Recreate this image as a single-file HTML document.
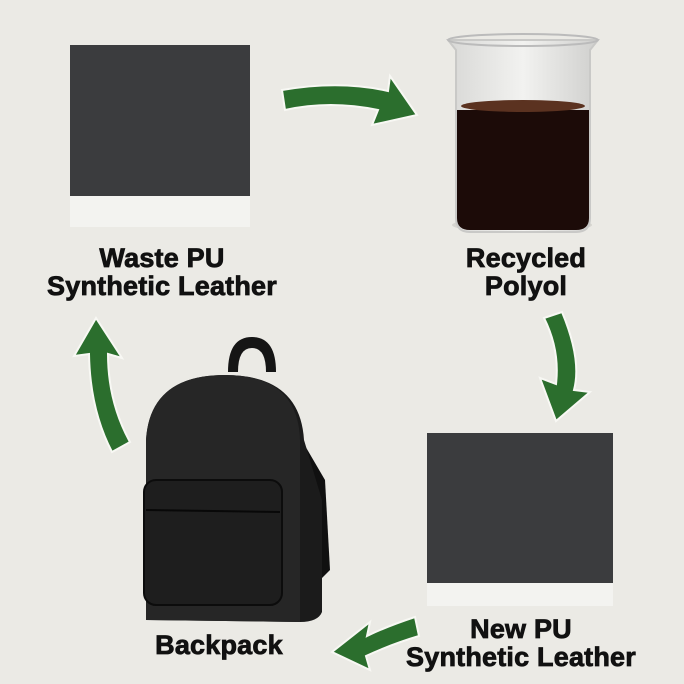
<!DOCTYPE html>
<html><head><style>
body{margin:0;width:684px;height:684px;background:#ebeae5;overflow:hidden;position:relative;font-family:"Liberation Sans",sans-serif}
.t{position:absolute;font-weight:bold;color:#111;font-size:27px;line-height:28px;text-align:center;white-space:nowrap;letter-spacing:0.2px;-webkit-text-stroke:0.8px #111}
</style></head><body>
<svg width="684" height="684" style="position:absolute;left:0;top:0">
<defs>
<linearGradient id="gl" x1="0" x2="1"><stop offset="0" stop-color="#d8d8d6"/><stop offset="0.5" stop-color="#f2f2f0"/><stop offset="1" stop-color="#cfcfcd"/></linearGradient>
</defs>
<rect x="70" y="45" width="180" height="182" fill="#f3f3f0"/>
<rect x="70" y="45" width="180" height="151" fill="#3b3c3e"/>
<ellipse cx="522" cy="225" rx="70" ry="8" fill="#d5d4cf"/>
<path d="M448 40 L598 40 L590 50 L590 218 Q590 232 576 232 L470 232 Q456 232 456 218 L456 50 Z" fill="url(#gl)" stroke="#c9c9c7" stroke-width="2"/>
<ellipse cx="523" cy="40" rx="75" ry="6" fill="none" stroke="#bbb" stroke-width="2"/>
<path d="M457 110 L589 110 L589 218 Q589 230 576 230 L470 230 Q457 230 457 218 Z" fill="#1c0b08"/>
<ellipse cx="523" cy="106" rx="62" ry="6" fill="#5b3220"/>
<rect x="427" y="433" width="186" height="173" fill="#f3f3f0"/>
<rect x="427" y="433" width="186" height="150" fill="#3b3c3e"/>
<path d="M228 372 Q228 337 252 337 Q276 337 276 372 L266 372 Q266 348 252 348 Q238 348 238 372 Z" fill="#151515"/>
<path d="M290 420 L325 480 L330 570 L320 580 L302 500 Z" fill="#101010"/>
<path d="M146 620 L146 440 Q150 375 225 375 Q300 375 304 440 L322 500 L322 612 Q318 622 300 622 Z" fill="#1b1b1b"/>
<path d="M146 620 L146 440 Q150 375 225 375 Q298 375 300 440 L300 622 Z" fill="#262626"/>
<rect x="144" y="480" width="138" height="125" rx="12" fill="#1e1e1e" stroke="#0c0c0c" stroke-width="2"/>
<line x1="146" y1="510" x2="280" y2="512" stroke="#080808" stroke-width="2"/>
<g fill="#2b6e2d" stroke="#f8f8f4" stroke-width="2">
<path d="M282 90 Q340 80 388 91 L390 76 L417 115 L372 125 L378 110 Q330 100 285 110 Z"/>
<path d="M562 312 Q582 360 574 390 L590 392 L556 421 L540 378 L556 384 Q560 350 544 318 Z"/>
<path d="M415 617 Q385 627 367 636 L370 622 L332 652 L370 670 L366 656 Q392 644 419 636 Z"/>
<path d="M130 442 Q108 402 108 354 L122 358 L96 318 L74 356 L89 354 Q90 410 112 452 Z"/>
</g>
</svg>
<div class="t" style="left:0;width:324px;top:244px">Waste PU<br>Synthetic Leather</div>
<div class="t" style="left:426px;width:200px;top:244px">Recycled<br>Polyol</div>
<div class="t" style="left:396px;width:250px;top:615px">New PU<br>Synthetic Leather</div>
<div class="t" style="left:149px;width:140px;top:631px">Backpack</div>
</body></html>
